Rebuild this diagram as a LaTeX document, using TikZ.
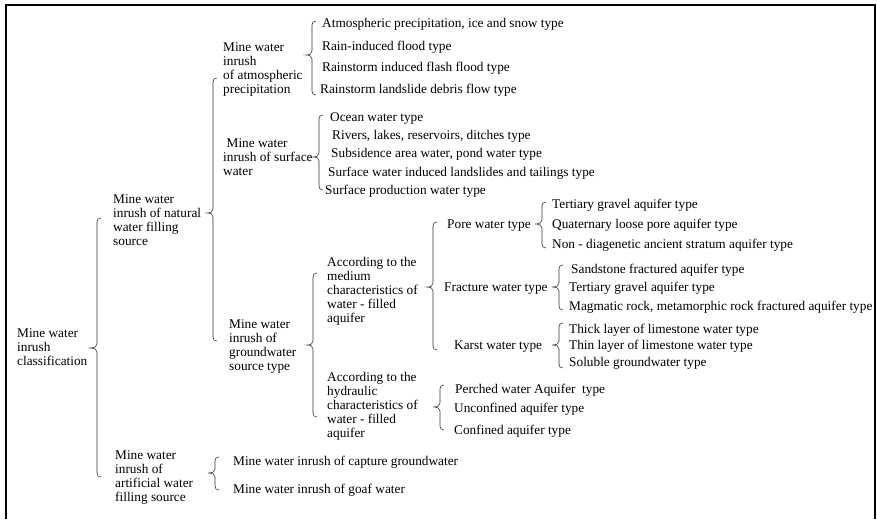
\documentclass[tikz,border=0pt]{standalone}
\usepackage{fontspec}
\setmainfont{Liberation Serif}
\tikzset{
  txt/.style={inner sep=0pt, anchor=base west, font=\fontsize{13.3}{14.1}\selectfont},
  mtxt/.style={inner sep=0pt, anchor=north west, align=left, font=\fontsize{13.3}{14.1}\selectfont},
  brace/.style={draw=black!80, line width=0.6pt},
  frame/.style={draw=black, line width=2pt}
}
% #1 vertical x, #2 top y, #3 tip y, #4 bottom y, #5 tip x
\newcommand{\mybrace}[5]{%
  \draw[brace] ({#1+4},#2) .. controls ({#1+1},#2) and (#1,{#2+1.5}) .. (#1,{#2+4})
    -- (#1,{#3-4}) .. controls (#1,{#3-1.5}) and ({#1-2},#3) .. (#5,#3)
    .. controls ({#1-2},#3) and (#1,{#3+1.5}) .. (#1,{#3+4})
    -- (#1,{#4-4}) .. controls (#1,{#4-1.5}) and ({#1+1},#4) .. ({#1+4},#4);}
\begin{document}
\begin{tikzpicture}[x=1pt,y=-1pt]
\useasboundingbox (0,0) rectangle (877,519);
\fill[white] (0,0) rectangle (877,519);
% frame
\draw[frame, line width=2.6pt] (6,519) -- (6,5);
\draw[frame] (5,5) -- (875,5) -- (875,519);

% multi-line nodes
\node[mtxt] (root) at (17,327) {\strut Mine water\\inrush\\classification};
\node[mtxt] (nat) at (113,193) {\strut Mine water\\inrush of natural\\water filling\\source};
\node[mtxt] (art) at (115,449) {\strut Mine water\\inrush of\\artificial water\\filling source};
\node[mtxt] (atm) at (223,41) {\strut Mine water\\inrush\\of atmospheric\\precipitation};
\node[mtxt] (sur) at (223,137) {\strut\hspace*{3.5pt}Mine water\\inrush of surface\\water};
\node[mtxt] (gw) at (229,318) {\strut Mine water\\inrush of\\groundwater\\source type};
\node[mtxt] (med) at (327,256) {\strut According to the\\medium\\characteristics of\\water - filled\\aquifer};
\node[mtxt] (hyd) at (327,371) {\strut According to the\\hydraulic\\characteristics of\\water - filled\\aquifer};

% atmospheric children
\node[txt] (a1) at (322,28) {Atmospheric precipitation, ice and snow type};
\node[txt] (a2) at (322,50) {Rain-induced flood type};
\node[txt] (a3) at (322,71) {Rainstorm induced flash flood type};
\node[txt] (a4) at (320,93) {Rainstorm landslide debris flow type};
% surface children
\node[txt] (s1) at (330,121) {Ocean water type};
\node[txt] (s2) at (332,139) {Rivers, lakes, reservoirs, ditches type};
\node[txt] (s3) at (331,157) {Subsidence area water, pond water type};
\node[txt] (s4) at (328,176) {Surface water induced landslides and tailings type};
\node[txt] (s5) at (325,194) {Surface production water type};
% medium children
\node[txt] (pore) at (447,228) {Pore water type};
\node[txt] (frac) at (444,291) {Fracture water type};
\node[txt] (karst) at (454,349) {Karst water type};
\node[txt] (p1) at (552,208) {Tertiary gravel aquifer type};
\node[txt] (p2) at (552,228) {Quaternary loose pore aquifer type};
\node[txt] (p3) at (552,248) {Non - diagenetic ancient stratum aquifer type};
\node[txt] (f1) at (571,273) {Sandstone fractured aquifer type};
\node[txt] (f2) at (569,291) {Tertiary gravel aquifer type};
\node[txt] (f3) at (569,310) {Magmatic rock, metamorphic rock fractured aquifer type};
\node[txt] (k1) at (569,333) {Thick layer of limestone water type};
\node[txt] (k2) at (569,349) {Thin layer of limestone water type};
\node[txt] (k3) at (569,366) {Soluble groundwater type};
% hydraulic children
\node[txt] (h1) at (455,393) {Perched water Aquifer\ \ type};
\node[txt] (h2) at (454,412) {Unconfined aquifer type};
\node[txt] (h3) at (454,434) {Confined aquifer type};
% artificial children
\node[txt] (r1) at (233,465) {Mine water inrush of capture groundwater};
\node[txt] (r2) at (233,493) {Mine water inrush of goaf water};

% braces
\mybrace{97}{218}{348}{477}{89}
\mybrace{213}{78}{213}{341}{207}
\mybrace{215}{457}{473}{490}{208}
\mybrace{312}{21}{55}{95}{306}
\mybrace{319}{115}{157}{190}{313}
\mybrace{313}{273}{345}{417}{307}
\mybrace{433}{222}{287}{350}{427}
\mybrace{440}{385}{407}{430}{433}
\mybrace{542}{202}{224}{248}{535}
\mybrace{559}{265}{287}{310}{552}
\mybrace{559}{323}{345}{368}{552}
\end{tikzpicture}
\end{document}
